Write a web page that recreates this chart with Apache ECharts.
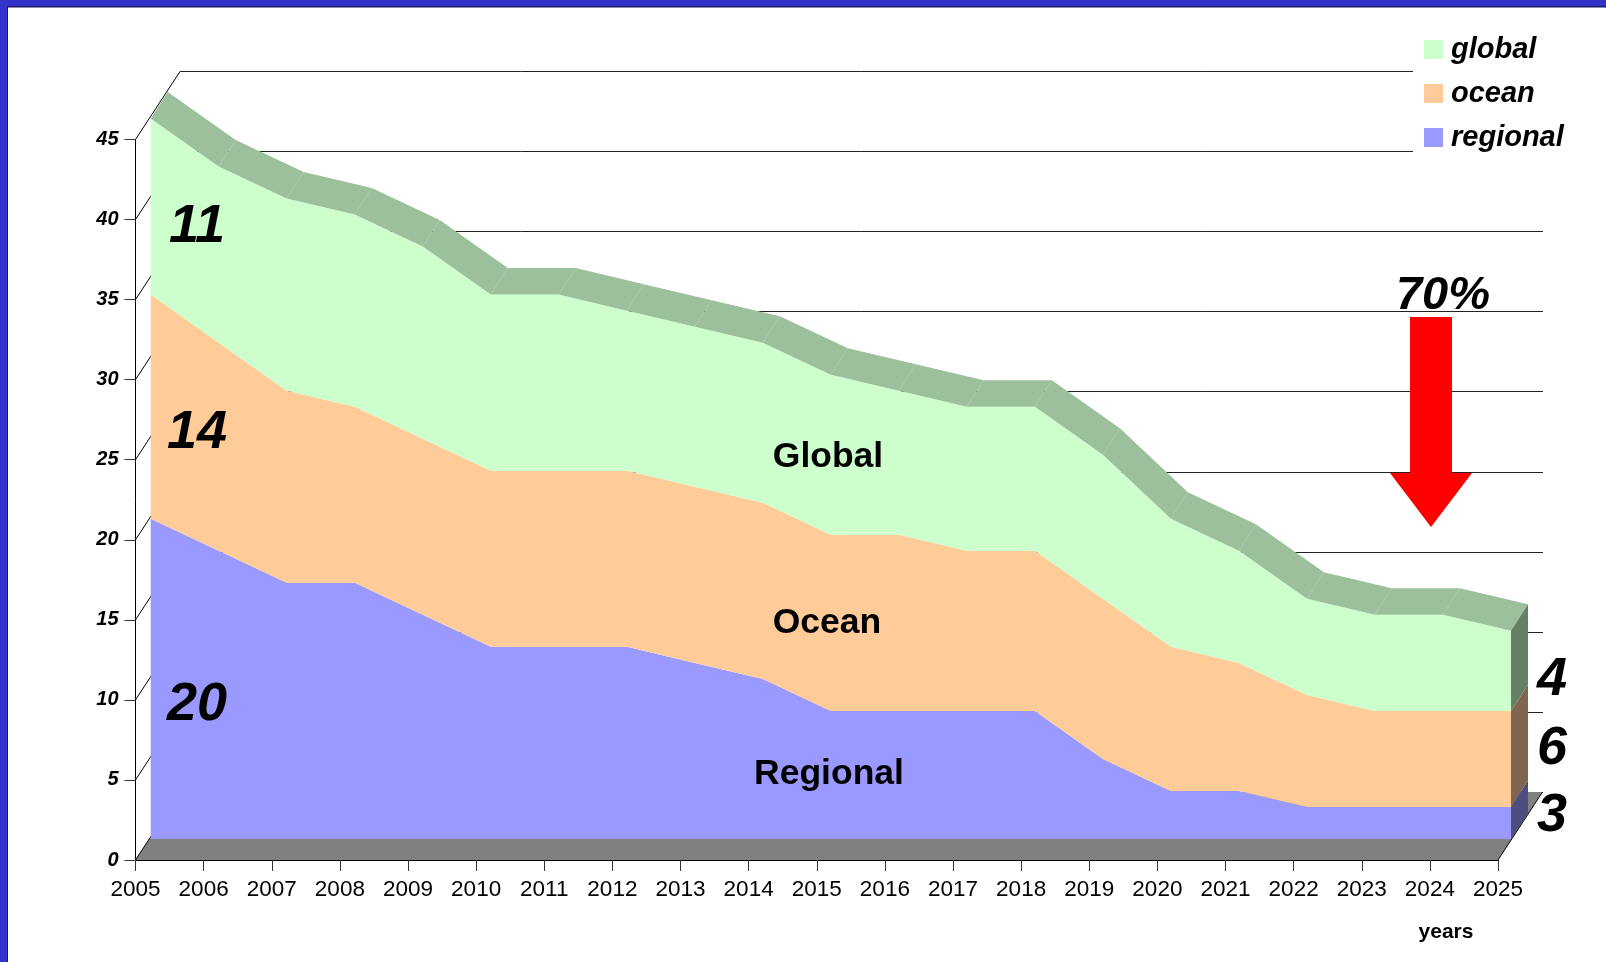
<!DOCTYPE html>
<html><head><meta charset="utf-8">
<script src="https://cdn.jsdelivr.net/npm/echarts@6/dist/echarts.min.js"></script>
<style>html,body{margin:0;padding:0;background:#fff}#c{width:1606px;height:962px}</style>
</head><body><div id="c"></div>
<script>
const years = ['2005','2006','2007','2008','2009','2010','2011','2012','2013','2014','2015','2016','2017','2018','2019','2020','2021','2022','2023','2024','2025'];
const regional = [20,18,16,16,14,12,12,12,11,10,8,8,8,8,5,3,3,2,2,2,2];
const ocean    = [14,13,12,11,11,11,11,11,11,11,11,11,10,10,10,9,8,7,6,6,6];
const global_  = [11,11,12,12,12,11,11,10,10,10,10,9,9,9,9,8,7,6,6,6,5];
const FONT = '"Liberation Sans", Arial, sans-serif';
const oceanTop = regional.map((v,i)=>v+ocean[i]);
const globalTop = oceanTop.map((v,i)=>v+global_[i]);
const last = years.length-1;
const BD=[17,-26.5];            // depth of the area slab
const WD=[44.5,-68];            // depth of the chart box
const idx = years.map((_,i)=>i);

const COL={global:'#CCFFCC',ocean:'#FFCC99',regional:'#9999FF',band:'#9CBF9C',
 wallG:'#668066',wallO:'#806650',wallR:'#4D4D80',floor:'#808080'};

function shift(p,d){return [p[0]+d[0],p[1]+d[1]];}
function area(name,data,color){
 return {name,type:'line',stack:'t',xAxisIndex:1,yAxisIndex:1,data,showSymbol:false,symbol:'none',
  lineStyle:{width:0},itemStyle:{color},areaStyle:{color,opacity:1},z:3,silent:true};
}
const option={
 animation:false,backgroundColor:'#fff',
 grid:[
  {left:135.5,right:108,top:139.5,bottom:102},     // front axes
  {left:150.7,right:95,top:118.5,bottom:123},      // area plane
  {left:180,right:63,top:71.5,bottom:170}          // back wall
 ],
 xAxis:[
  {gridIndex:0,type:'category',data:years,boundaryGap:false,z:5,
   axisLine:{lineStyle:{color:'#000',width:1}},
   axisTick:{show:true,alignWithLabel:true,length:11,lineStyle:{color:'#333'}},
   axisLabel:{interval:0,margin:18,color:'#000',fontFamily:FONT,fontSize:22.5,hideOverlap:false},
   splitLine:{show:false},
   name:'years',nameLocation:'end',nameGap:-52,
   nameTextStyle:{fontFamily:FONT,fontSize:21,fontWeight:'bold',color:'#000',align:'center',verticalAlign:'top',padding:[62,0,0,0]}},
  {gridIndex:1,type:'category',data:years,boundaryGap:false,show:false},
  {gridIndex:2,type:'category',data:years,boundaryGap:false,show:false}
 ],
 yAxis:[
  {gridIndex:0,type:'value',min:0,max:45,interval:5,z:5,
   axisLine:{show:true,lineStyle:{color:'#000',width:1}},
   axisTick:{show:true,length:11,lineStyle:{color:'#333'}},
   axisLabel:{margin:17,color:'#000',fontFamily:FONT,fontSize:20,fontWeight:'bold',fontStyle:'italic'},
   splitLine:{show:false}},
  {gridIndex:1,type:'value',min:0,max:45,interval:5,show:false},
  {gridIndex:2,type:'value',min:0,max:45,interval:5,
   axisLine:{show:false},axisTick:{show:false},axisLabel:{show:false},
   splitLine:{show:true,lineStyle:{color:'#222',width:1}}}
 ],
 legend:{
  orient:'vertical',left:1413,top:31,
  data:['global','ocean','regional'],
  backgroundColor:'#fff',padding:[4,10,4,11],
  itemWidth:19,itemHeight:19,itemGap:15,icon:'rect',selectedMode:false,
  textStyle:{fontFamily:FONT,fontSize:29,fontWeight:'bold',fontStyle:'italic',color:'#000',padding:[0,0,0,3]}
 },
 series:[
  // floor and left-wall diagonals
  {type:'custom',xAxisIndex:0,yAxisIndex:0,z:1,silent:true,data:[0],
   renderItem(p,api){
    const a=api.coord([0,0]),b=api.coord([last,0]);
    const kids=[{type:'polygon',shape:{points:[a,b,shift(b,WD),shift(a,WD)]},style:{fill:COL.floor}},
     {type:'line',shape:{x1:b[0],y1:b[1],x2:b[0]+WD[0],y2:b[1]+WD[1]},style:{stroke:'#000',lineWidth:1}}];
    for(let v=0;v<=45;v+=5){
     const q=api.coord([0,v]);
     kids.push({type:'line',shape:{x1:q[0],y1:q[1],x2:q[0]+WD[0],y2:q[1]+WD[1]},style:{stroke:'#000',lineWidth:1}});
    }
    return {type:'group',children:kids};
   }},
  area('regional',regional,COL.regional),
  area('ocean',ocean,COL.ocean),
  area('global',global_,COL.global),
  // top slab of the area
  {type:'custom',xAxisIndex:1,yAxisIndex:1,z:4,silent:true,data:idx.slice(0,last),
   renderItem(p,api){
    const i=p.dataIndex;
    const a=api.coord([i,globalTop[i]]),b=api.coord([i+1,globalTop[i+1]]);
    return {type:'polygon',shape:{points:[a,b,shift(b,BD),shift(a,BD)]},style:{fill:COL.band}};
   }},
  // right end wall
  {type:'custom',xAxisIndex:1,yAxisIndex:1,z:4,silent:true,data:[last],
   renderItem(p,api){
    const i=last;
    const lv=[[0,regional[i],COL.wallR],[regional[i],oceanTop[i],COL.wallO],[oceanTop[i],globalTop[i],COL.wallG]];
    return {type:'group',children:lv.map(([lo,hi,c])=>{
     const a=api.coord([i,lo]),b=api.coord([i,hi]);
     return {type:'polygon',shape:{points:[a,b,shift(b,BD),shift(a,BD)]},style:{fill:c}};
    })};
   }}
 ],
 graphic:{elements:[
  {type:'rect',z:20,shape:{x:0,y:0,width:1606,height:6},style:{fill:'#3333CC'}},
  {type:'rect',z:20,shape:{x:0,y:0,width:7,height:962},style:{fill:'#3333CC'}},
  {type:'rect',z:20,shape:{x:7,y:6,width:1599,height:1.5},style:{fill:'#1A1A66'}},
  {type:'rect',z:20,shape:{x:7,y:6,width:1,height:956},style:{fill:'#1A1A66'}},
  ...[['11',197,227.5],['14',197,433],['20',197,705],['4',1552,680],['6',1552,749],['3',1552,816]].map(([t,x,y])=>(
   {type:'text',z:20,x,y,style:{text:t,fill:'#000',font:'italic bold 54px '+FONT,textAlign:'center',textVerticalAlign:'middle'}})),
  ...[['Global',828,457],['Ocean',827,623],['Regional',829,774]].map(([t,x,y])=>(
   {type:'text',z:20,x,y,style:{text:t,fill:'#000',font:'bold 35.5px '+FONT,textAlign:'center',textVerticalAlign:'middle'}})),
  {type:'text',z:20,x:1443,y:296,style:{text:'70%',fill:'#000',font:'italic bold 47px '+FONT,textAlign:'center',textVerticalAlign:'middle'}},
  {type:'polygon',z:20,shape:{points:[[1410,317],[1452,317],[1452,473],[1472,473],[1431,527],[1390,473],[1410,473]]},style:{fill:'#FF0000'}}
 ]}
};
echarts.init(document.getElementById('c'),null,{renderer:'canvas'}).setOption(option);
</script></body></html>
